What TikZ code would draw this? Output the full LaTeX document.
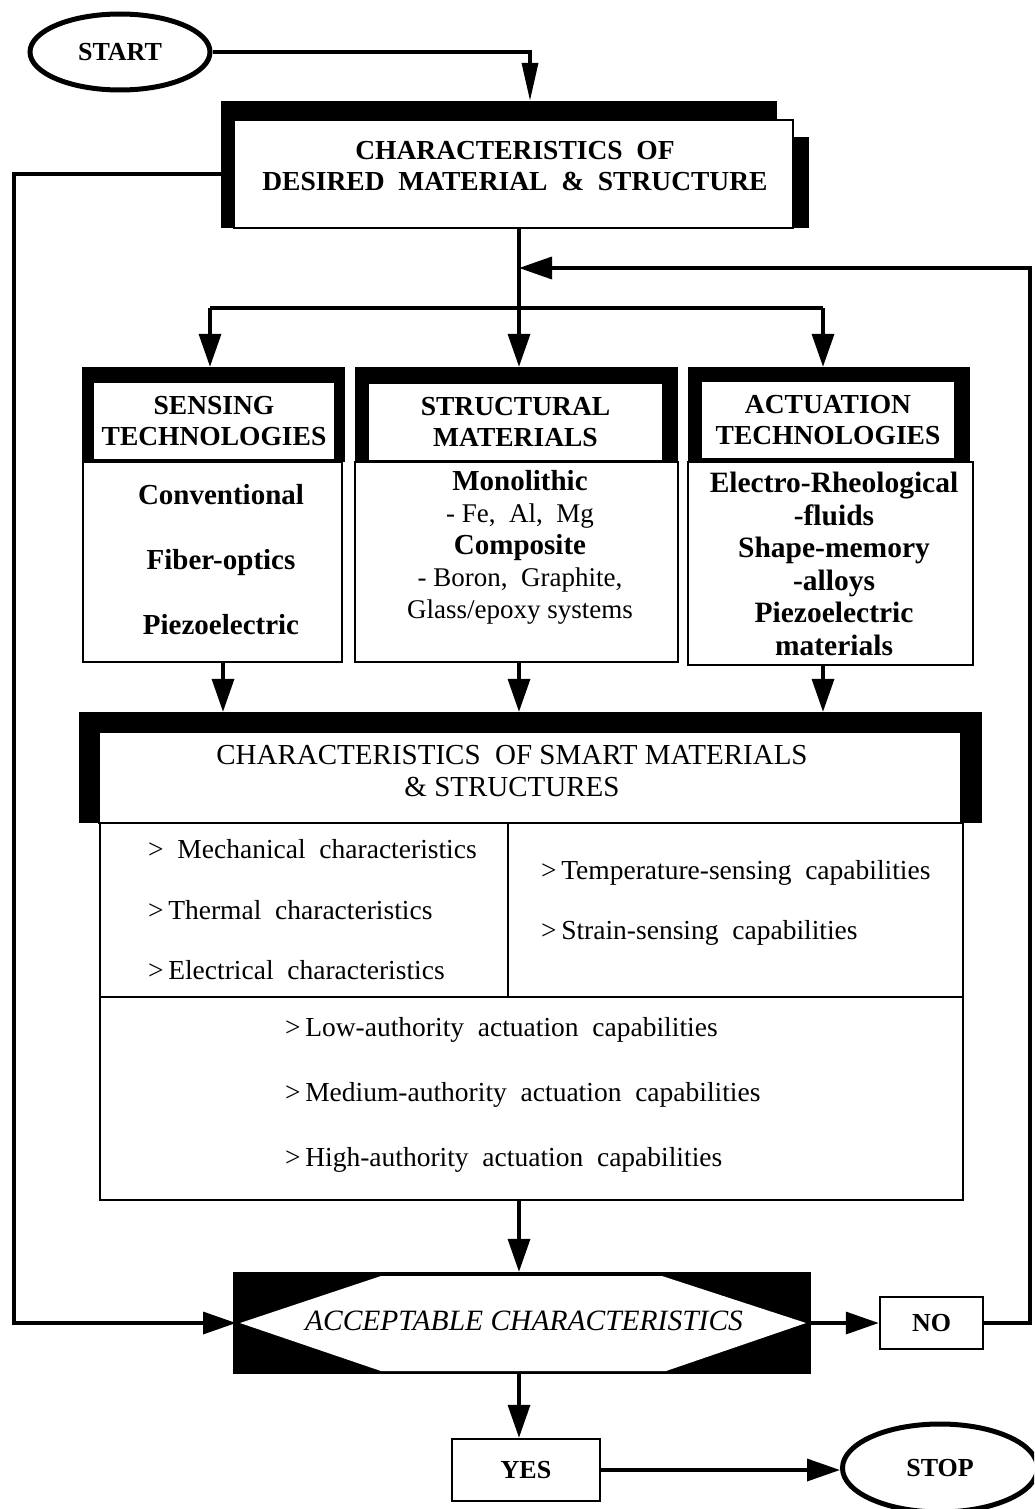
\documentclass[tikz,border=0pt]{standalone}
\usepackage{fontspec}
\setmainfont{Liberation Serif}
\usetikzlibrary{arrows.meta,shapes.geometric,calc}
\newcommand{\fsz}[2]{\fontsize{#1}{#2}\selectfont}
\begin{document}
\begin{tikzpicture}[x=1pt,y=-1pt,
  conn/.style={line width=3.5pt},
  arr/.style={line width=3.5pt,-{Triangle[length=33pt,width=22pt]}},
  box/.style={draw,line width=2.5pt,fill=white,inner sep=0pt},
  blk/.style={fill=black,inner sep=0pt},
  term/.style={ellipse,draw,line width=5pt,inner sep=0pt,font=\bfseries\fsz{26}{28}},
  hdr/.style={align=center,font=\bfseries\fsz{27.5}{31}},
  txt/.style={inner sep=0pt},
 ]
\useasboundingbox (0,0) rectangle (1034,1509);
\clip (0,0) rectangle (1034,1509);

% START
\node[term,minimum width=180,minimum height=76] (start) at (120,52) {START};

% desired characteristics box
\node[blk,minimum width=556,minimum height=19] (desiredbar) at (499,110.5) {};
\fill (221,101) rectangle (234,228);
\fill (793,137) rectangle (809,228);
\node[box,minimum width=559,minimum height=108] (desired) at (513.5,174) {};
\node[txt,align=center,font=\bfseries\fsz{27.5}{31}] (desiredtxt) at (515,166)
  {CHARACTERISTICS\ \ OF\\DESIRED\ \ MATERIAL\ \ \&\ \ STRUCTURE};
\draw[line width=3.5pt,-{Triangle[length=38pt,width=16pt]}] (start.east) -| ([xshift=31]desiredbar.north);

% coordinates for branching
\coordinate (split) at (519,308);
\coordinate (merge) at (519,268);
\coordinate (brL) at (210,308);
\coordinate (brR) at (823,308);
\coordinate (c1) at (223,0);
\coordinate (c3) at (823,0);

% three boxes
\node[blk,minimum width=263,minimum height=95] (senseframe) at (213.5,414.5) {};
\node[box,minimum width=242,minimum height=78,hdr] (sensehdr) at (214,421) {SENSING\\TECHNOLOGIES};
\node[box,minimum width=259,minimum height=200] (sensebody) at (212.5,562) {};
\node[txt,align=center,font=\bfseries\fsz{29}{65}] (sensetxt) at (221,560) {Conventional\\Fiber-optics\\Piezoelectric};

\node[blk,minimum width=323,minimum height=95] (structframe) at (516.5,414.5) {};
\node[box,minimum width=295,minimum height=78,hdr] (structhdr) at (515.5,422) {STRUCTURAL\\MATERIALS};
\node[box,minimum width=323,minimum height=200] (structbody) at (516.5,562) {};
\node[txt,align=center,font=\fsz{27}{32}] (structtxt) at (520,547)
  {{\bfseries\fsz{29}{32}Monolithic}\\- Fe,\ \ Al,\ \ Mg\\{\bfseries\fsz{29}{32}Composite}\\- Boron,\ \ Graphite,\\Glass/epoxy systems};

\node[blk,minimum width=282,minimum height=95] (actframe) at (829,414.5) {};
\node[box,minimum width=254,minimum height=78,hdr] (acthdr) at (828,420) {ACTUATION\\TECHNOLOGIES};
\node[box,minimum width=285,minimum height=203] (actbody) at (830.5,563.5) {};
\node[txt,align=center,font=\bfseries\fsz{29.5}{32.6}] (acttxt) at (834,564)
  {Electro-Rheological\\-fluids\\Shape-memory\\-alloys\\Piezoelectric\\materials};

% smart materials box
\node[blk,minimum width=903,minimum height=111] (smartframe) at (530.5,767.5) {};
\node[box,minimum width=862,minimum height=91] (smarthdr) at (530,777.5) {};
\node[txt,align=center,font=\fsz{29}{32}] (smarttitle) at (512,771) {CHARACTERISTICS\ \ OF SMART MATERIALS\\\&\ STRUCTURES};
\node[box,minimum width=863,minimum height=377] (smartbody) at (531.5,1011.5) {};
\draw[line width=2.5pt] (smartbody.west |- 0,997) -- (smartbody.east |- 0,997);
\draw[line width=2.5pt] (508,0 |- smartbody.north) -- (508,997);
\begin{scope}[every node/.style={txt,anchor=west,font=\fsz{27.5}{30}}]
\node (m1) at (148,849) {>\ \ Mechanical\ \ characteristics};
\node (m2) at (148,910) {>\,Thermal\ \ characteristics};
\node (m3) at (148,970) {>\,Electrical\ \ characteristics};
\node (t1) at (541,873) {>\,Temperature-sensing\ \ capabilities};
\node (t2) at (541,933) {>\,Strain-sensing\ \ capabilities};
\node (a1) at (285,1030) {>\,Low-authority\ \ actuation\ \ capabilities};
\node (a2) at (285,1095) {>\,Medium-authority\ \ actuation\ \ capabilities};
\node (a3) at (285,1160) {>\,High-authority\ \ actuation\ \ capabilities};
\end{scope}

% decision
\node[blk,minimum width=578,minimum height=102] (hexbox) at (522,1323) {};
\fill[white] (240,1323) -- (381,1276) -- (662,1276) -- (806,1323) -- (666,1371) -- (381,1371) -- cycle;
\coordinate (hexL) at (236,1323);
\node[txt,font=\itshape\fsz{29.5}{32}] (hex) at (524,1321) {ACCEPTABLE CHARACTERISTICS};

\node[box,minimum width=103,minimum height=52,font=\bfseries\fsz{26}{28}] (no) at (931.5,1323) {NO};
\node[box,minimum width=148,minimum height=62,font=\bfseries\fsz{26}{28}] (yes) at (526,1470) {YES};
\node[term,minimum width=195,minimum height=88] (stop) at (940,1468) {STOP};

% connectors
\draw[arr] (desired.west) -- (14,174) |- (hexL);
\draw[conn] (desired.south -| split) -- (split);
\draw[conn] (brL) -- (brR);
\draw[arr] (brL) -- (brL |- senseframe.north);
\draw[arr] (split) -- (split |- structframe.north);
\draw[arr] (brR) -- (brR |- actframe.north);
\draw[arr] (sensebody.south -| c1) -- (smartframe.north -| c1);
\draw[arr] (structbody.south -| split) -- (smartframe.north -| split);
\draw[arr] (actbody.south -| c3) -- (smartframe.north -| c3);
\draw[arr] (smartbody.south -| split) -- (hexbox.north -| split);
\draw[arr] (hexbox.east) -- (no.west);
\draw[arr] (no.east) -| (1030,268) -- (merge);
\draw[arr] (hexbox.south -| split) -- (yes.north -| split);
\draw[arr] (yes.east) -- (yes.east -| stop.west);
\end{tikzpicture}
\end{document}
